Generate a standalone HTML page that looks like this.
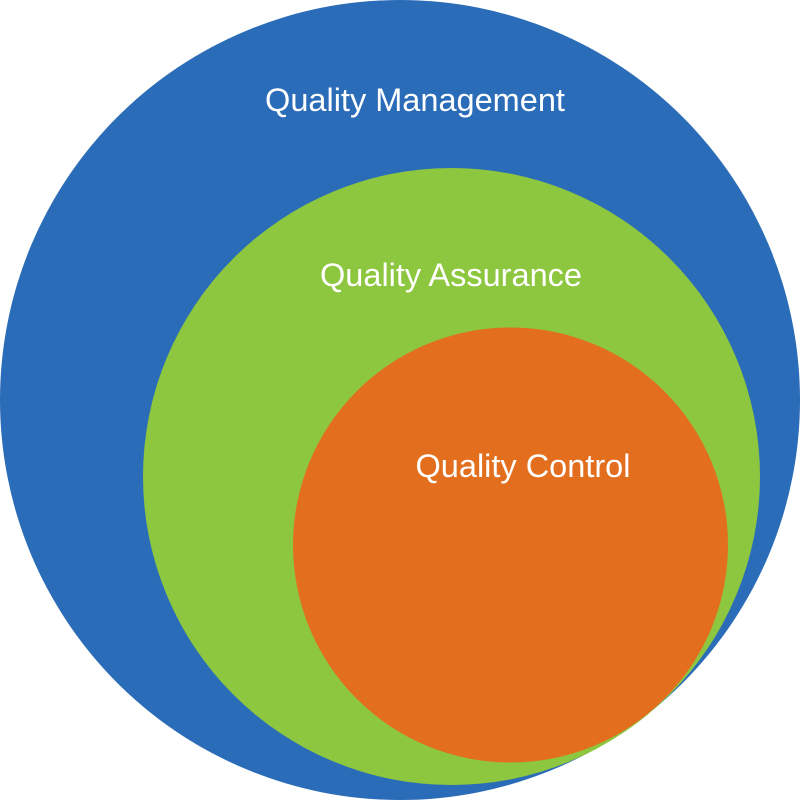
<!DOCTYPE html>
<html><head><meta charset="utf-8"><style>html,body{margin:0;padding:0;background:#fff}</style></head>
<body>
<svg width="800" height="800" viewBox="0 0 800 800" xmlns="http://www.w3.org/2000/svg">
<circle cx="400" cy="400" r="400" fill="#2b6cb8"/>
<circle cx="451.5" cy="476.5" r="308.5" fill="#8dc63f"/>
<circle cx="510.5" cy="545" r="217.5" fill="#e36f1e"/>
<g font-family="Liberation Sans, sans-serif" font-size="32.5" fill="#fff" text-anchor="middle">
<text x="415" y="111">Quality Management</text>
<text x="451" y="286">Quality Assurance</text>
<text x="523" y="477">Quality Control</text>
</g>
</svg>
</body></html>
